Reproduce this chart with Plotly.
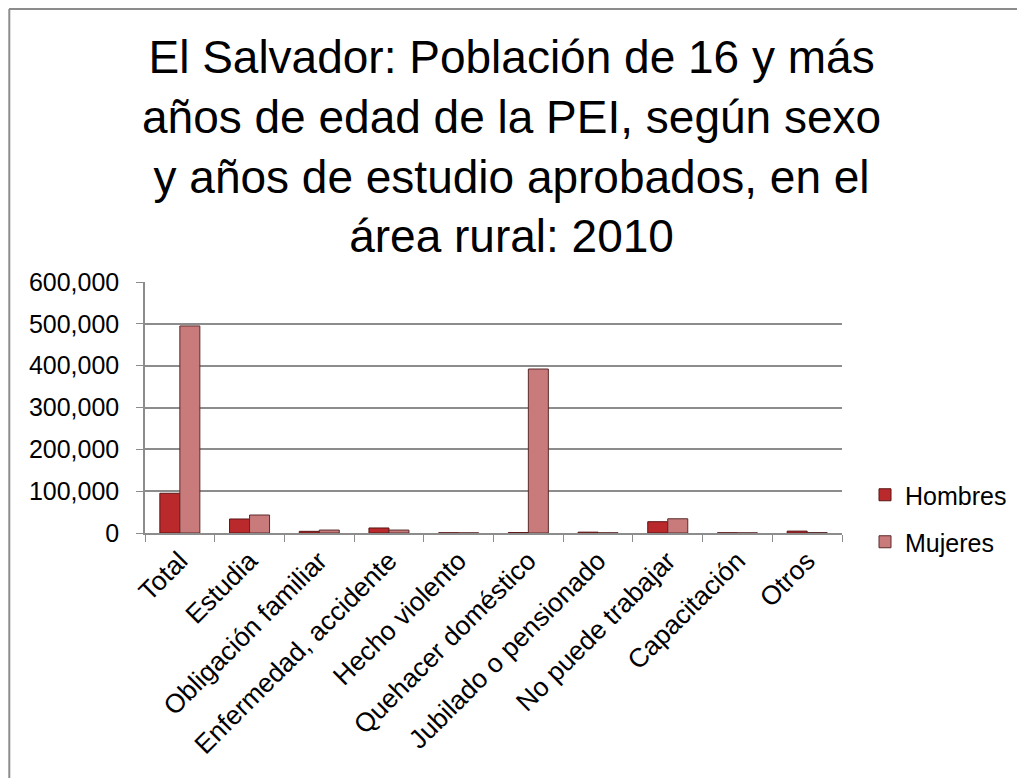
import plotly.graph_objects as go

categories = ["Total", "Estudia", "Obligación familiar", "Enfermedad, accidente",
              "Hecho violento", "Quehacer doméstico", "Jubilado o pensionado",
              "No puede trabajar", "Capacitación", "Otros"]
hombres = [95000, 33500, 4000, 12000, 500, 1000, 2000, 27000, 500, 4500]
mujeres = [495000, 43000, 7000, 7000, 300, 392000, 500, 34000, 300, 1000]
y_ticks = [0, 100000, 200000, 300000, 400000, 500000, 600000]
title_text = ("El Salvador: Población de 16 y más<br>años de edad de la PEI, según sexo<br>"
              "y años de estudio aprobados, en el<br>área rural: 2010")

OFF = 8  # page body margin
W, H = 1017, 770
L, R, T, B = 145 - OFF, 842 - OFF, 282 - OFF, 533 - OFF
FONT = "Liberation Sans, Arial, sans-serif"

fig = go.Figure()
fig.add_trace(go.Bar(name="Hombres", x=categories, y=hombres, legend="legend",
                     marker=dict(color="#BA2A2D", line=dict(color="#5A1414", width=1))))
fig.add_trace(go.Bar(name="Mujeres", x=categories, y=mujeres, legend="legend2",
                     marker=dict(color="#C97B7C", line=dict(color="#5A2A2A", width=1))))

pw, ph = R - L, B - T
def px_x(p):
    return (p - OFF - L) / pw
def px_y(p):
    return (B - (p - OFF)) / ph

leg_common = dict(xanchor="left", yanchor="middle", font=dict(size=25, family=FONT),
                  itemwidth=30, bgcolor="rgba(0,0,0,0)")

fig.update_layout(
    width=W, height=H,
    margin=dict(l=L, r=W - R, t=T, b=H - B, autoexpand=False),
    paper_bgcolor="white", plot_bgcolor="white",
    font=dict(family=FONT, color="black", size=25),
    bargap=0.426, bargroupgap=0,
    legend=dict(x=px_x(865), y=px_y(495), **leg_common),
    legend2=dict(x=px_x(865), y=px_y(542), **leg_common),
    showlegend=True,
    xaxis=dict(type="category", tickangle=-45, showgrid=False,
               showline=True, linecolor="#8C8C8C", linewidth=1.5,
               ticks="outside", tickson="boundaries", ticklen=7, tickcolor="#8C8C8C",
               tickfont=dict(size=26.5)),
    yaxis=dict(range=[0, 600000], tickvals=y_ticks, tickformat=",d",
               showgrid=True, gridcolor="#8C8C8C", gridwidth=1.5,
               showline=True, linecolor="#8C8C8C", linewidth=1.5,
               ticks="outside", ticklen=7, tickcolor="#8C8C8C",
               zeroline=False, ticklabelstandoff=12, tickfont=dict(size=25)),
    annotations=[dict(text=title_text, xref="paper", yref="paper",
                      x=px_x(512), y=px_y(146), xanchor="center", yanchor="middle",
                      showarrow=False, align="center",
                      font=dict(size=46, family=FONT, color="black"))],
    shapes=[
        dict(type="line", xref="paper", yref="paper",
             x0=px_x(9), x1=px_x(1200), y0=px_y(OFF + 1), y1=px_y(OFF + 1),
             line=dict(color="#8C8C8C", width=2)),
        dict(type="line", xref="paper", yref="paper",
             x0=px_x(OFF + 1.3), x1=px_x(OFF + 1.3), y0=px_y(OFF + 1), y1=px_y(1000),
             line=dict(color="#8C8C8C", width=2)),
    ],
)

fig.write_html("out.html")
